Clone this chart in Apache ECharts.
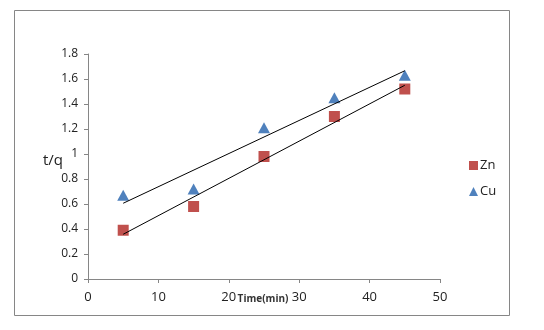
<!DOCTYPE html>
<html><head><meta charset="utf-8">
<script src="https://cdn.jsdelivr.net/npm/echarts@6/dist/echarts.min.js"></script>
<style>html,body{margin:0;padding:0;background:#fff}#c{width:544px;height:330px}</style>
</head><body><div id="c"></div>
<script>
var times = [5, 15, 25, 35, 45];
var znValues = [0.39, 0.58, 0.98, 1.30, 1.52];
var cuValues = [0.67, 0.72, 1.21, 1.45, 1.63];
var xTicks = [0, 10, 20, 30, 40, 50];
var yTicks = [0, 0.2, 0.4, 0.6, 0.8, 1, 1.2, 1.4, 1.6, 1.8];
var xTitle = 'Time(min)';
var yTitle = 't/q';

function pairs(xs, ys) { return xs.map(function (x, i) { return [x, ys[i]]; }); }
function trend(xs, ys) {
  var n = xs.length, mx = 0, my = 0;
  for (var i = 0; i < n; i++) { mx += xs[i]; my += ys[i]; }
  mx /= n; my /= n;
  var sxy = 0, sxx = 0;
  for (i = 0; i < n; i++) { sxy += (xs[i] - mx) * (ys[i] - my); sxx += (xs[i] - mx) * (xs[i] - mx); }
  var b = sxy / sxx, a = my - b * mx;
  var x0 = xs[0], x1 = xs[n - 1];
  return [[x0, a + b * x0], [x1, a + b * x1]];
}

var font = 'Open Sans';
var chart = echarts.init(document.getElementById('c'), null, { renderer: 'canvas' });
chart.setOption({
  animation: false,
  backgroundColor: '#fff',
  graphic: [{
    type: 'rect', shape: { x: 14.5, y: 10.5, width: 495, height: 305 },
    style: { fill: 'none', stroke: '#868686', lineWidth: 1 }, silent: true
  }, {
    type: 'text', x: 263, y: 299, silent: true,
    style: { text: xTitle, fontFamily: font, fontSize: 10, fontWeight: 'bold', fill: '#333', align: 'center', verticalAlign: 'middle' }
  }, {
    type: 'text', x: 63, y: 161, silent: true,
    style: { text: yTitle, fontFamily: font, fontSize: 15, fill: '#222', align: 'right', verticalAlign: 'middle' }
  }],
  grid: { left: 88, right: 104, top: 54, bottom: 51 },
  legend: {
    data: [{ name: 'Zn', icon: 'rect' }, { name: 'Cu', icon: 'triangle' }],
    orient: 'vertical', left: 464, top: 154, itemWidth: 9, itemHeight: 9, itemGap: 13,
    textStyle: { fontFamily: font, fontSize: 13, color: '#222', padding: [0, 0, 0, -3] }
  },
  xAxis: {
    type: 'value', min: xTicks[0], max: xTicks[xTicks.length - 1], interval: 10,
    axisLine: { show: true, lineStyle: { color: '#868686' } },
    axisTick: { show: true, length: 4, lineStyle: { color: '#868686' } },
    axisLabel: { fontFamily: font, fontSize: 13, color: '#222', margin: 12 },
    splitLine: { show: false }
  },
  yAxis: {
    type: 'value', min: yTicks[0], max: yTicks[yTicks.length - 1], interval: 0.2,
    axisLine: { show: true, lineStyle: { color: '#868686' } },
    axisTick: { show: true, length: 4, lineStyle: { color: '#868686' } },
    axisLabel: { fontFamily: font, fontSize: 12, color: '#222', margin: 10,
      formatter: function (v) { return String(Math.round(v * 10) / 10); } },
    splitLine: { show: false }
  },
  series: [
    { name: 'Zn trend', type: 'line', data: trend(times, znValues), symbol: 'none',
      lineStyle: { color: '#000', width: 1 }, z: 3, silent: true },
    { name: 'Cu trend', type: 'line', data: trend(times, cuValues), symbol: 'none',
      lineStyle: { color: '#000', width: 1 }, z: 3, silent: true },
    { name: 'Zn', type: 'scatter', data: pairs(times, znValues), symbol: 'rect', symbolSize: 11,
      itemStyle: { color: '#C0504D', opacity: 1 }, z: 2 },
    { name: 'Cu', type: 'scatter', data: pairs(times, cuValues), symbol: 'triangle', symbolSize: [12, 11],
      itemStyle: { color: '#4F81BD', opacity: 1 }, z: 2 }
  ]
});
</script></body></html>
